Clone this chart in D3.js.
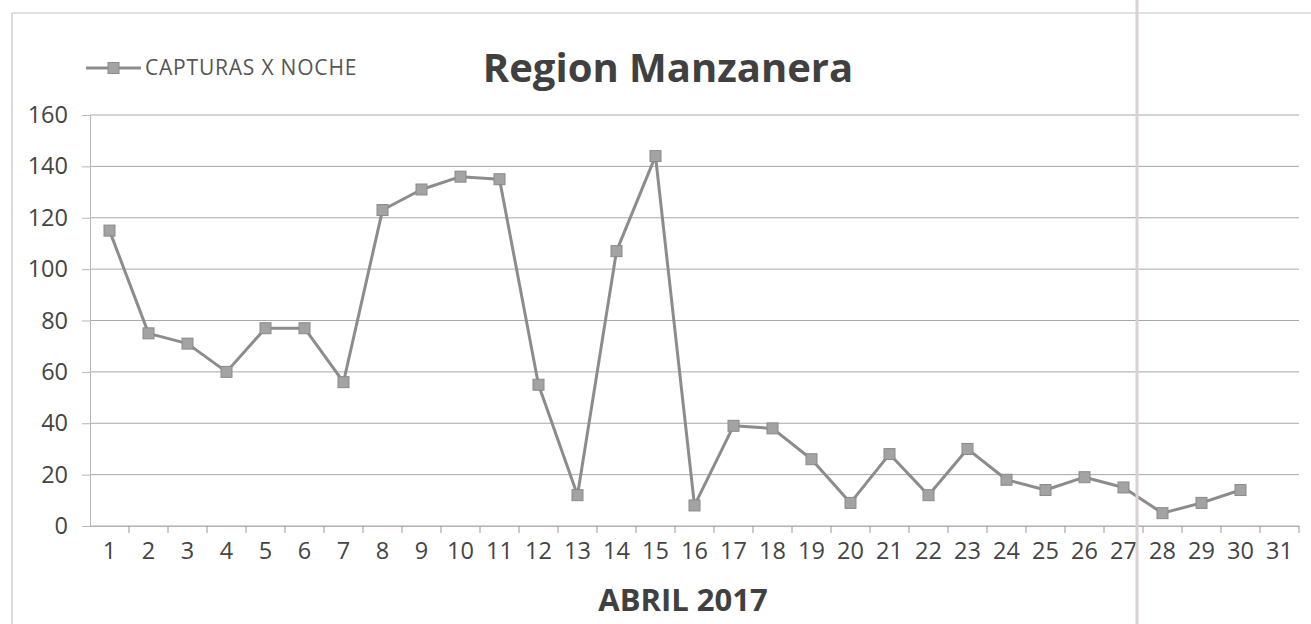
<!DOCTYPE html>
<html>
<head>
<meta charset="utf-8">
<script src="https://cdn.jsdelivr.net/npm/d3@7"></script>
<style>
  body { margin: 0; background: #fff; }
  svg { display: block; font-family: "Open Sans", sans-serif; }
</style>
</head>
<body>
<svg width="1311" height="624"></svg>
<script>
// data
const days = d3.range(1, 32).map(String)
const capturas = [115, 75, 71, 60, 77, 77, 56, 123, 131, 136, 135, 55, 12, 107, 144,
                  8, 39, 38, 26, 9, 28, 12, 30, 18, 14, 19, 15, 5, 9, 14]
const yTicks = [0, 20, 40, 60, 80, 100, 120, 140, 160]
const seriesName = "CAPTURAS X NOCHE"
const titleText = "Region Manzanera"
const xTitle = "ABRIL 2017"

const svg = d3.select('svg')
const plot = { left: 90, right: 1299, top: 115, bottom: 526 }

// chart frame
svg.append('path')
    .attr('d', `M12,624 V13 H1311`)
    .attr('fill', 'none')
    .attr('stroke', '#c4c4c4')
    .attr('stroke-width', 1.2)

let x = d3.scaleBand()
    .domain(days)
    .range([plot.left, plot.right])
    .padding(0)

let y = d3.scaleLinear()
    .domain([0, 160])
    .range([plot.bottom, plot.top])

// gridlines
svg.append('g')
    .selectAll('line')
    .data(yTicks)
    .enter()
    .append('line')
    .attr('x1', plot.left)
    .attr('x2', plot.right)
    .attr('y1', d => y(d))
    .attr('y2', d => y(d))
    .attr('stroke', '#a9a9a9')
    .attr('stroke-width', 1)

// y axis
let yAxis = svg.append('g')
    .attr('transform', `translate(${plot.left},0)`)
    .call(d3.axisLeft(y).tickValues(yTicks).tickSize(8).tickPadding(14))
yAxis.select('.domain').attr('stroke', '#b5b5b5')
yAxis.selectAll('.tick line').attr('stroke', '#b5b5b5')
yAxis.selectAll('text')
    .attr('font-size', 23.5)
    .attr('fill', '#444')
    .attr('font-family', '"Open Sans", sans-serif')

// x axis, ticks sit between categories
let xAxis = svg.append('g')
    .attr('transform', `translate(0,${plot.bottom})`)
    .call(d3.axisBottom(x).tickSize(0).tickPadding(16))
xAxis.select('.domain').attr('stroke', '#b5b5b5')
xAxis.selectAll('text')
    .attr('font-size', 23.5)
    .attr('fill', '#444')
    .attr('font-family', '"Open Sans", sans-serif')
xAxis.selectAll('.tick')
    .append('line')
    .attr('x1', x.bandwidth() / 2)
    .attr('x2', x.bandwidth() / 2)
    .attr('y1', 0)
    .attr('y2', 7)
    .attr('stroke', '#9a9a9a')

// series line
const cx = (d, i) => x(days[i]) + x.bandwidth() / 2
svg.append('path')
    .datum(capturas)
    .attr('fill', 'none')
    .attr('stroke', '#8c8c8c')
    .attr('stroke-width', 3)
    .attr('stroke-linejoin', 'round')
    .attr('d', d3.line().x(cx).y(d => y(d)))

svg.append('g')
    .selectAll('rect')
    .data(capturas)
    .enter()
    .append('rect')
    .attr('x', (d, i) => cx(d, i) - 5.5)
    .attr('y', d => y(d) - 5.5)
    .attr('width', 11)
    .attr('height', 11)
    .attr('fill', '#a3a3a3')
    .attr('stroke', '#8a8a8a')
    .attr('stroke-width', 1)

// legend
let legend = svg.append('g').attr('transform', 'translate(86,68)')
legend.append('line')
    .attr('x1', 0).attr('x2', 55)
    .attr('stroke', '#8c8c8c').attr('stroke-width', 3)
legend.append('rect')
    .attr('x', 22).attr('y', -5.5).attr('width', 11).attr('height', 11)
    .attr('fill', '#a3a3a3').attr('stroke', '#8a8a8a')
legend.append('text')
    .attr('x', 59).attr('dy', '0.35em')
    .attr('font-size', 21).attr('letter-spacing', 0.8).attr('fill', '#555')
    .text(seriesName)

// titles
svg.append('text')
    .attr('x', 668).attr('y', 82)
    .attr('text-anchor', 'middle')
    .attr('font-size', 40).attr('font-weight', 'bold').attr('fill', '#404040')
    .text(titleText)

svg.append('text')
    .attr('x', 683).attr('y', 611)
    .attr('text-anchor', 'middle')
    .attr('font-size', 31).attr('font-weight', 'bold').attr('fill', '#404040')
    .text(xTitle)

// scan fold line in the photo
svg.append('line')
    .attr('x1', 1137).attr('x2', 1137).attr('y1', 0).attr('y2', 624)
    .attr('stroke', '#d8d2d2').attr('stroke-width', 3)
</script>
</body>
</html>
